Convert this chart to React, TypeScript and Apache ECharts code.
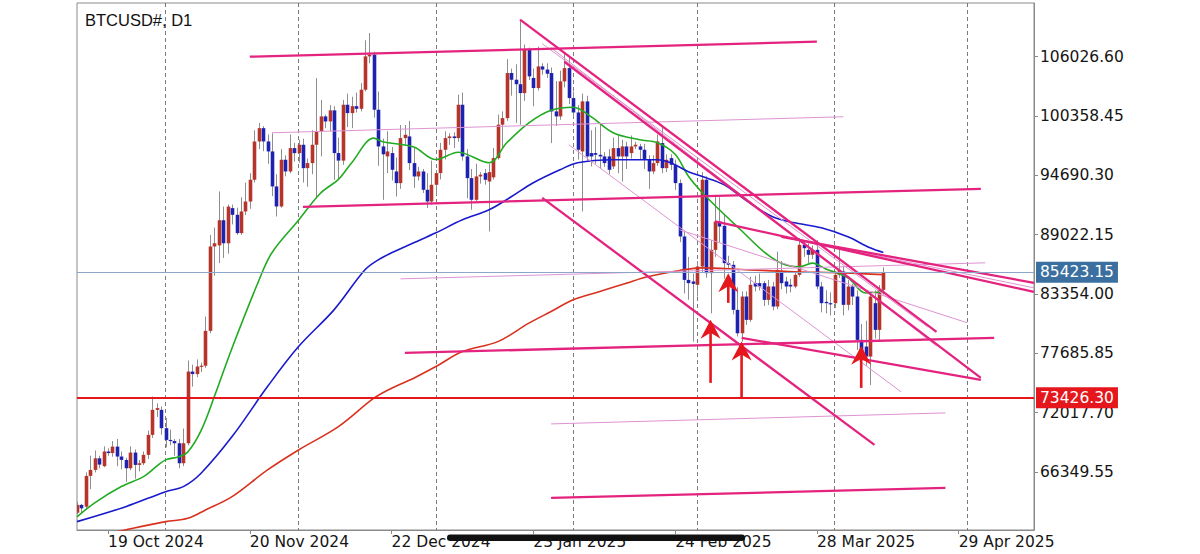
import { useEffect, useRef } from "react";
import * as echarts from "echarts";

const MONTHS = ["Jan", "Feb", "Mar", "Apr", "May", "Jun", "Jul", "Aug", "Sep", "Oct", "Nov", "Dec"];
const START_UTC = Date.UTC(2024, 9, 12);
const SLOT_COUNT = 217;
const categories: string[] = Array.from({ length: SLOT_COUNT }, (_, i) => {
  const d = new Date(START_UTC + i * 86400000);
  return `${d.getUTCDate()} ${MONTHS[d.getUTCMonth()]} ${d.getUTCFullYear()}`;
});

const xTickLabels = ["19 Oct 2024", "20 Nov 2024", "22 Dec 2024", "23 Jan 2025", "24 Feb 2025", "28 Mar 2025", "29 Apr 2025"];
const yTickValues = [66349.55, 72017.7, 77685.85, 83354.0, 89022.15, 94690.3, 100358.45, 106026.6];

// daily candles from 12 Oct 2024: [open, close, low, high]
const ohlc: number[][] = [
  [62450, 63200, 62300, 63500], [63200, 62870, 62450, 63300], [63030, 65970, 62750, 66300], [65970, 66540, 64700, 67900],
  [66540, 67650, 66300, 68400], [67650, 67050, 66700, 67900], [66900, 68300, 66800, 68800], [68300, 68150, 67900, 68600],
  [68150, 68770, 67800, 69300], [68770, 67820, 66900, 69500], [67820, 67500, 66600, 68300], [67500, 66700, 65400, 67700],
  [66700, 68200, 66500, 68800], [68200, 67020, 65700, 68500], [67020, 67180, 66400, 67500], [67180, 67980, 67000, 68300],
  [67980, 69890, 67600, 70300], [69890, 72280, 69600, 73550], [72280, 72450, 71600, 72900], [72280, 70530, 69900, 72600],
  [70530, 69410, 68700, 71500], [69410, 69300, 68900, 70400], [69300, 69090, 67900, 69500], [69090, 67180, 66700, 69500],
  [67180, 69090, 66900, 70500], [69090, 75940, 68900, 77000], [75940, 75700, 74500, 76600], [75700, 76420, 75400, 77100],
  [76420, 76500, 75900, 76800], [76500, 79830, 76300, 81200], [79830, 87890, 79600, 89000], [87890, 88200, 85100, 89700],
  [88000, 90400, 86300, 93150], [90400, 88200, 86800, 91700], [88200, 91700, 87200, 91900], [91560, 90920, 90000, 91900],
  [90920, 89170, 89000, 91600], [89170, 91240, 89000, 92600], [91240, 92190, 90900, 94000], [92190, 94270, 91500, 94900],
  [94270, 97930, 94000, 99000], [97930, 99200, 97200, 99700], [99200, 97930, 97000, 99400], [97930, 96975, 95800, 98600],
  [96975, 93630, 92700, 98700], [93630, 91717, 90760, 94800], [91717, 96180, 91600, 97200], [96180, 95063, 94600, 96600],
  [95063, 97294, 94900, 98600], [97294, 96816, 96000, 97800], [96816, 97613, 95900, 98100], [97613, 95380, 94000, 98200],
  [95380, 95860, 93600, 96300], [95860, 97613, 94800, 99000], [97613, 98888, 92500, 103980], [98888, 100322, 96500, 101900],
  [100322, 99840, 99200, 100500], [99840, 100900, 98900, 101400], [100900, 96820, 94270, 101300], [96820, 96100, 94300, 98300],
  [96100, 101437, 95700, 101900], [101437, 100640, 99300, 102500], [100640, 101300, 99200, 102200], [101300, 101050, 100700, 102600],
  [101050, 102871, 100800, 103500], [102871, 106058, 102700, 107600], [106058, 106218, 105400, 108289], [106218, 100960, 100200, 106500],
  [100960, 97453, 95600, 102700], [97453, 96700, 92350, 98200], [96500, 96975, 94900, 98900], [96816, 95222, 94200, 97400],
  [95063, 93948, 92673, 96400], [93948, 98250, 93400, 99500], [98250, 98569, 97600, 99500], [98410, 95860, 95200, 99900],
  [95860, 94585, 93500, 97400], [94585, 95063, 94200, 95500], [95063, 93310, 93000, 95300], [93310, 92195, 91560, 94900],
  [92195, 93788, 91900, 96100], [93788, 94904, 92800, 95200], [94904, 97135, 94300, 97800], [97135, 98250, 96200, 98900],
  [98250, 98410, 97600, 98700], [98410, 98250, 97300, 98800], [98250, 101437, 97900, 102400], [101437, 96497, 96100, 102600],
  [96497, 94426, 92500, 97200], [94426, 92354, 91400, 95300], [92354, 94585, 92200, 95800], [94585, 94750, 93900, 95000],
  [94904, 94266, 93800, 95300], [94107, 95000, 89326, 95800], [94500, 96338, 94300, 97300], [96338, 99530, 96200, 100500],
  [99530, 100160, 97300, 100800], [100160, 104465, 99900, 105800], [104465, 103827, 102300, 104900], [103827, 103400, 99700, 105300],
  [103400, 102550, 99530, 109500], [102550, 106700, 101800, 107200], [106700, 104150, 103800, 106900], [104000, 103030, 101300, 104900],
  [103030, 105100, 102800, 107000], [105100, 104800, 104300, 105400], [104800, 104400, 104000, 105400], [104465, 100800, 97772, 105000],
  [100800, 100322, 99400, 103700], [100322, 103670, 100000, 104700], [103670, 104940, 103100, 106400], [104940, 102075, 101500, 106000],
  [102075, 100700, 100300, 102700], [100700, 97135, 96200, 101400], [96975, 101757, 91240, 102500], [101757, 96497, 96100, 102300],
  [96816, 96497, 95541, 99000], [96816, 96656, 95800, 99300], [96656, 96497, 95300, 99600], [96497, 95860, 95500, 96900],
  [96497, 95222, 94800, 97200], [95541, 97294, 95300, 98300], [97294, 96497, 94900, 98500], [96497, 97453, 94100, 98100],
  [97453, 96497, 95300, 97900], [96816, 97453, 96300, 98500], [97453, 97613, 97200, 97900], [97453, 97135, 96200, 97700],
  [97135, 96178, 95300, 97700], [96178, 95063, 93400, 96600], [95063, 95860, 94800, 96600], [95860, 97931, 95600, 98600],
  [97772, 95381, 94900, 99400], [95381, 96178, 95000, 96700], [96338, 95700, 95200, 96700], [95700, 93948, 93300, 96200],
  [93948, 88850, 88300, 94300], [88850, 84700, 83400, 89400], [84700, 84390, 82800, 86900], [84550, 84320, 78800, 85300],
  [84230, 85980, 83100, 86500], [85980, 94270, 85400, 95000], [94270, 85340, 84900, 94600], [85340, 87570, 81500, 88500],
  [87570, 90280, 86900, 92670], [90280, 89800, 88300, 92600], [89870, 86300, 84800, 91000], [86300, 86140, 85700, 87000],
  [86140, 81836, 81400, 86500], [81836, 79600, 79300, 84000], [79600, 83110, 78800, 83600], [83110, 80880, 80400, 83600],
  [80880, 84230, 80700, 85000], [84390, 84070, 83600, 85100], [84390, 84070, 83700, 85300], [84390, 82790, 82200, 84600],
  [82790, 84070, 82300, 84700], [84070, 82156, 81800, 84500], [82156, 85660, 81900, 87400], [85500, 84390, 83800, 86500],
  [84550, 84070, 83400, 85000], [84230, 84070, 83500, 84800], [84070, 85180, 83900, 85500], [85180, 88050, 85000, 88700],
  [88050, 87730, 86900, 88400], [87570, 87100, 86300, 88200], [87100, 87570, 86700, 88000], [87570, 84070, 83800, 88500],
  [84070, 82475, 81600, 84500], [82600, 82475, 81500, 83700], [82475, 82380, 81300, 83500], [82475, 85180, 82000, 85500],
  [85180, 85660, 84900, 87800], [85500, 82316, 81300, 86000], [82316, 84070, 81800, 84700], [84070, 83110, 82300, 84300],
  [83110, 78969, 78000, 83700], [78969, 77690, 76000, 80500], [78330, 77375, 76500, 80800], [77375, 83110, 74650, 83500],
  [82475, 79925, 79100, 83700], [79925, 83750, 78900, 84200], [83750, 85423, 83300, 85900],
];

// moving averages read at sample days: [dayIndex, value]
const maFast: number[][] = [
  [0, 62050], [4, 63400], [10, 64950], [15, 65900], [18, 66900], [20, 67500], [23, 67800], [25, 68250], [28, 70300],
  [31, 73550], [35, 78200], [41, 84600], [44, 87300], [50, 90400], [55, 93000], [59, 94300], [62, 95900], [67, 98250],
  [69, 97900], [76, 97400], [81, 96200], [86, 96900], [93, 95900], [97, 97800], [102, 99700], [107, 100900],
  [112, 101200], [116, 100300], [121, 98760], [127, 98091], [131, 97800], [135, 96700], [138, 94600], [141, 93100],
  [145, 91400], [150, 89400], [155, 87400], [159, 86300], [163, 85950], [166, 86300], [169, 85750], [174, 84900],
  [178, 83450], [182, 83560],
];
const maMid: number[][] = [
  [0, 61600], [11, 63030], [20, 64465], [24, 64943], [28, 66224], [35, 69725], [43, 74505], [50, 78330], [58, 81836],
  [65, 85661], [68, 86618], [71, 87287], [76, 88243], [81, 89200], [87, 90442], [93, 91398], [98, 92640], [103, 93980],
  [109, 95222], [113, 95892], [121, 96180], [131, 96180], [134, 95892], [138, 95032], [141, 94600], [146, 93800],
  [151, 92300], [157, 90729], [162, 90155], [168, 89677], [174, 88816], [179, 87765], [182, 87315],
];
const maSlow: number[][] = [
  [0, 59850], [9, 60640], [20, 61600], [25, 61920], [29, 62716], [35, 63990], [43, 66540], [50, 68450], [59, 70680],
  [67, 73395], [71, 74350], [76, 75307], [81, 76418], [87, 77850], [95, 78800], [102, 80565], [107, 81675],
  [112, 82793], [118, 83587], [124, 84390], [129, 85020], [136, 85600], [141, 85850], [150, 85700], [162, 85480],
  [173, 85370], [182, 85200],
];

// drawn trend lines: [startDay, startPrice, endDay, endPrice]
const thickLines: number[][] = [
  [39, 106027, 167, 107461],
  [51, 91685, 204, 93406],
  [74, 77727, 207, 79161],
  [107, 63863, 196, 64819],
  [100, 109564, 194, 79734],
  [110, 105549, 204, 75336],
  [105, 92545, 180, 68930],
  [144, 90300, 216, 83558],
  [159, 88817, 216, 84419],
  [150, 79160, 204, 75145],
];
const thinLines: number[][] = [
  [44, 98760, 173, 100290],
  [73, 84800, 205, 86330],
  [107, 70938, 196, 71990],
  [105, 107270, 192, 80200],
  [107, 106880, 194, 78390],
  [111, 97613, 186, 74000],
  [136, 89486, 201, 80594],
  [163, 88530, 216, 83940],
];

// up arrows: [day, tipPrice, tailPrice]
const arrows: number[][] = [
  [143, 80881, 74858],
  [150, 78806, 73423],
  [147, 85346, 82507],
  [177, 78396, 74380],
];

const supportLevel = 73426.3;
const lastPrice = 85423.15;

const UP = "#B5352B";
const DOWN = "#1E22B0";
const WICK = "#8E8E8E";
const PINK = "#E4237F";
const PINK_THIN = "#DE93D2";
const ARROW = "#E5161C";
const AXIS_FONT = "DejaVu Sans";

export default function App() {
  const ref = useRef<HTMLDivElement>(null);

  useEffect(() => {
    if (!ref.current) return;
    const chart = echarts.init(ref.current, undefined, { renderer: "svg" });

    const candleData = ohlc.map((r, i) => [i, r[0], r[1], r[2], r[3]]);

    const lineSeries = (rows: number[][], color: string, width: number) =>
      rows.map((r) => ({
        type: "line",
        data: [[r[0], r[1]], [r[2], r[3]]],
        symbol: "none",
        silent: true,
        clip: true,
        z: 4,
        lineStyle: { color, width },
      }));

    const maSeries = (rows: number[][], color: string) => ({
      type: "line",
      data: rows,
      symbol: "none",
      smooth: 0.35,
      silent: true,
      clip: true,
      z: 3,
      lineStyle: { color, width: 1.6 },
    });

    const isTick = (_i: number, v: string) => xTickLabels.includes(v);

    const option: any = {
      animation: false,
      backgroundColor: "#ffffff",
      title: {
        text: "BTCUSD#, D1",
        left: 80,
        top: 6,
        textStyle: { fontSize: 16.5, fontWeight: "normal", color: "#111", fontFamily: "Liberation Sans" },
      },
      grid: {
        left: 77,
        right: 166,
        top: 3,
        bottom: 24,
        show: true,
        borderColor: "#8a8a8a",
        borderWidth: 1,
        backgroundColor: "#ffffff",
      },
      xAxis: {
        type: "category",
        data: categories,
        boundaryGap: false,
        axisLine: { lineStyle: { color: "#8a8a8a" } },
        axisTick: {
          show: true,
          length: 4,
          interval: isTick,
          lineStyle: { color: "#8a8a8a" },
        },
        axisLabel: {
          interval: isTick,
          align: "left",
          margin: 4,
          color: "#151515",
          fontSize: 15.5,
          fontFamily: AXIS_FONT,
        },
        splitLine: {
          show: true,
          interval: (_i: number, v: string) => v.startsWith("1 "),
          lineStyle: { color: "#7a7a7a", type: [4, 3], width: 1 },
        },
      },
      yAxis: {
        type: "value",
        position: "right",
        min: 60800,
        max: 111160,
        scale: true,
        splitLine: { show: false },
        axisLine: { show: true, lineStyle: { color: "#8a8a8a" } },
        axisTick: { show: true, length: 4, customValues: yTickValues, lineStyle: { color: "#8a8a8a" } },
        axisLabel: {
          customValues: yTickValues,
          formatter: (v: number) => v.toFixed(2),
          margin: 6,
          color: "#151515",
          fontSize: 15.5,
          fontFamily: AXIS_FONT,
        },
      },
      graphic: [
        {
          type: "rect",
          shape: { x: 447, y: 534.5, width: 298, height: 6.5, r: 3.2 },
          style: { fill: "#111111" },
          z: 100,
        },
      ],
      series: [
        {
          type: "custom",
          data: candleData,
          clip: true,
          silent: true,
          z: 2,
          encode: { x: 0, y: [1, 2, 3, 4] },
          renderItem: (_p: any, api: any) => {
            const k = api.value(0);
            const o = api.value(1);
            const c = api.value(2);
            const pO = api.coord([k, o]);
            const pC = api.coord([k, c]);
            const pL = api.coord([k, api.value(3)]);
            const pH = api.coord([k, api.value(4)]);
            const x = Math.round(pO[0]) + 0.5;
            const top = Math.min(pO[1], pC[1]);
            const h = Math.max(1.2, Math.abs(pO[1] - pC[1]));
            return {
              type: "group",
              children: [
                { type: "line", shape: { x1: x, y1: pH[1], x2: x, y2: pL[1] }, style: { stroke: WICK, lineWidth: 1 } },
                { type: "rect", shape: { x: x - 1.8, y: top, width: 3.6, height: h }, style: { fill: c >= o ? UP : DOWN } },
              ],
            };
          },
        },
        {
          ...maSeries(maFast, "#23AA23"),
          markLine: {
            silent: true,
            symbol: "none",
            animation: false,
            data: [
              {
                yAxis: lastPrice,
                lineStyle: { color: "#8BA6C9", width: 1, type: "solid" },
                label: {
                  show: true,
                  position: "end",
                  distance: 2,
                  formatter: lastPrice.toFixed(2),
                  backgroundColor: "#3B6FA0",
                  color: "#ffffff",
                  padding: [3, 4, 2, 4],
                  fontSize: 15.5,
                  fontFamily: AXIS_FONT,
                },
              },
              {
                yAxis: supportLevel,
                lineStyle: { color: "#E5161C", width: 2, type: "solid" },
                label: {
                  show: true,
                  position: "end",
                  distance: 2,
                  formatter: supportLevel.toFixed(2),
                  backgroundColor: "#E5161C",
                  color: "#ffffff",
                  padding: [3, 4, 2, 4],
                  fontSize: 15.5,
                  fontFamily: AXIS_FONT,
                },
              },
            ],
          },
        },
        maSeries(maMid, "#1A1ACD"),
        maSeries(maSlow, "#D8321E"),
        ...lineSeries(thinLines, PINK_THIN, 1),
        ...lineSeries(thickLines, PINK, 2.3),
        {
          type: "custom",
          data: arrows,
          clip: true,
          silent: true,
          z: 6,
          encode: { x: 0, y: [1, 2] },
          renderItem: (_p: any, api: any) => {
            const k = api.value(0);
            const tip = api.coord([k, api.value(1)]);
            const tail = api.coord([k, api.value(2)]);
            const x = tip[0];
            const y = tip[1];
            return {
              type: "group",
              children: [
                { type: "line", shape: { x1: x, y1: y + 10, x2: x, y2: tail[1] }, style: { stroke: ARROW, lineWidth: 2.6 } },
                {
                  type: "polygon",
                  shape: { points: [[x, y], [x + 10, y + 19], [x, y + 13], [x - 10, y + 19]] },
                  style: { fill: ARROW },
                },
              ],
            };
          },
        },
      ],
    };

    chart.setOption(option);
    return () => chart.dispose();
  }, []);

  return <div ref={ref} style={{ position: "absolute", left: 0, top: 0, width: 1200, height: 554 }} />;
}
